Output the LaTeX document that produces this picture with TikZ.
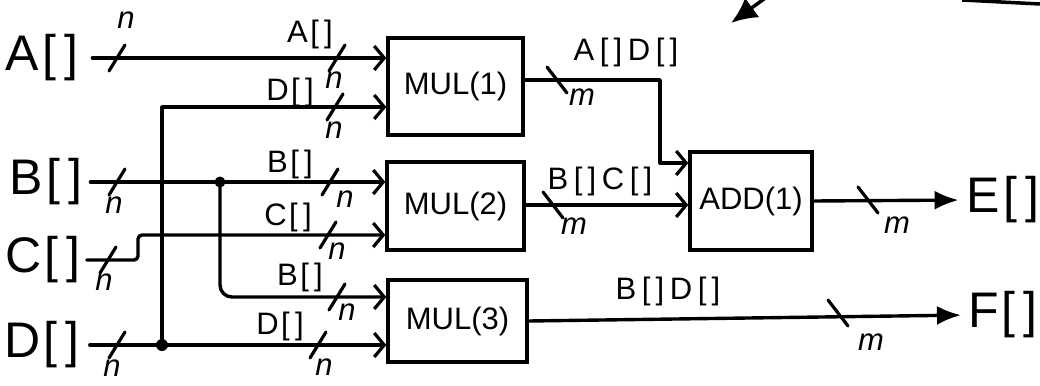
\documentclass[tikz,border=0pt]{standalone}
\usepackage{fontspec}
\setmainfont{Liberation Sans}
\usetikzlibrary{arrows.meta,calc}
\begin{document}
\begin{tikzpicture}[x=1pt,y=-1pt,
  wire/.style={line width=3.4pt, line cap=round, line join=round},
  inarrow/.style={wire,-{Straight Barb[length=10pt,width=24pt,line width=3.2pt]}},
  outarrow/.style={wire,-{Latex[length=24pt,width=19pt]}},
  box/.style={draw, line width=3.4pt, inner sep=0pt, font=\fontsize{31}{36}\selectfont},
  big/.style={inner sep=0pt, font=\fontsize{50}{56}\selectfont\addfontfeature{LetterSpace=6}},
  lab/.style={inner sep=0pt, font=\fontsize{31}{36}\selectfont\addfontfeature{LetterSpace=8}},
  olab/.style={inner sep=0pt, font=\fontsize{31}{36}\selectfont\addfontfeature{LetterSpace=18}},
  wl/.style={inner sep=0pt, font=\fontsize{31}{36}\selectfont\itshape},
  slashline/.style={line width=3.2pt, line cap=round}
]
\useasboundingbox (0,0) rectangle (1040,385);
\fill[white] (0,0) rectangle (1040,385);

% blocks
\node[box, minimum width=135pt, minimum height=97pt] (mul1) at (455.5,86.5) {MUL(1)};
\node[box, minimum width=137pt, minimum height=88pt] (mul2) at (455.5,206) {MUL(2)};
\node[box, minimum width=139pt, minimum height=82pt] (mul3) at (457.5,321) {MUL(3)};
\node[box, minimum width=122pt, minimum height=98pt] (add) at (751,201) {ADD(1)};

% port labels
\node[big] (A) at (42,58) {A[\,]};
\node[big] (B) at (46,182) {B[\,]};
\node[big] (C) at (43,260) {C[\,]};
\node[big] (D) at (42,345) {D[\,]};
\node[big] (E) at (1003,200) {E[\,]};
\node[big] (F) at (1003,315) {F[\,]};

% junctions
\coordinate (jD) at (162,345);
\coordinate (jB) at (220,182);

% inputs
\draw[inarrow, shorten <=14pt] (A.east) -- (A.east -| mul1.west);
\draw[inarrow] (jD) |- (mul1.west |- 0,107);
\draw[inarrow, shorten <=8pt] (B.east) -- (B.east -| mul2.west);
\draw[inarrow, rounded corners=4pt, shorten <=6pt] (C.east) -| (138,235) -- (mul2.west |- 0,235);
\draw[inarrow, rounded corners=12pt] (jB) |- (mul3.west |- 0,297);
\draw[inarrow, shorten <=10pt] (D.east) -- (D.east -| mul3.west);
\fill (jD) circle[radius=6pt];
\fill (jB) circle[radius=5.5pt];

% internal
\draw[inarrow] (mul1.east |- 0,80) -| (660,163) -- (add.west |- 0,163);
\draw[inarrow] (mul2.east |- 0,205) -- (add.west |- 0,205);

% outputs
\draw[outarrow, shorten >=8pt] (add.east) -- (E.west);
\draw[outarrow, shorten >=7pt] (mul3.east) -- (F.west);

% bus slashes (/)
\foreach \x/\y in {117/58, 337/58, 335/107, 117/182, 330/182, 108/260, 328/235, 337/297, 117/345, 318/345}
  \draw[slashline] (\x,\y) ++(-8,13) -- ++(16,-26);
% bus slashes (\)
\foreach \x/\y in {557/80, 553/205, 868/200, 838/313}
  \draw[slashline] (\x,\y) ++(-10,-13) -- ++(20,26);

% width labels
\node[wl] (nA0) at (126,20) {n};
\node[wl] (nA1) at (334,80) {n};
\node[wl] (nD1) at (334,130) {n};
\node[wl] (nB0) at (114,205) {n};
\node[wl] (nB2) at (345,199) {n};
\node[wl] (nC0) at (104,282) {n};
\node[wl] (nC2) at (337,251) {n};
\node[wl] (nB3) at (347,312) {n};
\node[wl] (nD0) at (112,368) {n};
\node[wl] (nD3) at (324,367) {n};
\node[wl] (m1) at (582,97) {m};
\node[wl] (m2) at (574,226) {m};
\node[wl] (mE) at (897,225) {m};
\node[wl] (mF) at (871,342) {m};

% signal labels
\node[lab] (lA1) at (310,34) {A[\,]};
\node[lab] (lD1) at (290,92) {D[\,]};
\node[lab] (lB2) at (290,164) {B[\,]};
\node[lab] (lC2) at (288,217) {C[\,]};
\node[lab] (lB3) at (300,277) {B[\,]};
\node[lab] (lD3) at (280,326) {D[\,]};
\node[olab] (lAD) at (626,52) {A[\,]D[\,]};
\node[olab] (lBC) at (600,181) {B[\,]C[\,]};
\node[olab] (lBD) at (668,291) {B[\,]D[\,]};

% fragments cut off at the top edge
\begin{scope}
\clip (0,0) rectangle (1040,385);
\draw[line width=3.5pt, -{Latex[length=26pt,width=24pt]}] (790,-20) -- (731,23);
\draw[line width=3.5pt] (962,0) -- (1040,4);
\end{scope}
\end{tikzpicture}
\end{document}
